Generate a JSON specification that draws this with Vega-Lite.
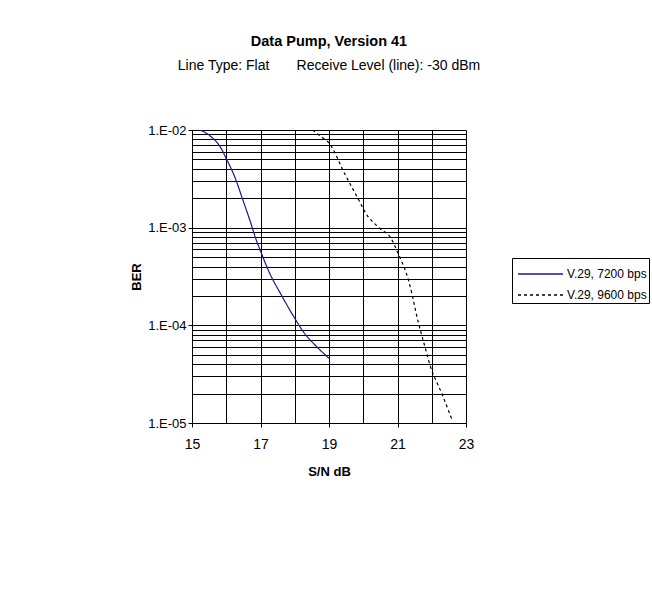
{
  "$schema": "https://vega.github.io/schema/vega-lite/v6.json",
  "autosize": "none",
  "width": 274,
  "height": 293,
  "padding": {"left": 192, "top": 130, "right": 186, "bottom": 171},
  "background": "white",
  "title": {
    "text": "Data Pump, Version 41",
    "subtitle": "Line Type: Flat\u00a0\u00a0\u00a0\u00a0\u00a0\u00a0\u00a0Receive Level (line): -30 dBm",
    "anchor": "middle",
    "offset": 50,
    "font": "Liberation Sans",
    "fontSize": 14.5,
    "fontWeight": "bold",
    "color": "black",
    "subtitleFont": "Liberation Sans",
    "subtitleFontSize": 14,
    "subtitleColor": "black",
    "subtitlePadding": 10
  },
  "data": {
    "values": [
      {"series": "V.29, 7200 bps", "snr": 15.24, "ber": 0.0100},
      {"series": "V.29, 7200 bps", "snr": 15.52, "ber": 0.00875},
      {"series": "V.29, 7200 bps", "snr": 15.86, "ber": 0.0064},
      {"series": "V.29, 7200 bps", "snr": 16.0, "ber": 0.0051},
      {"series": "V.29, 7200 bps", "snr": 16.25, "ber": 0.0033},
      {"series": "V.29, 7200 bps", "snr": 16.49, "ber": 0.0019},
      {"series": "V.29, 7200 bps", "snr": 16.69, "ber": 0.00119},
      {"series": "V.29, 7200 bps", "snr": 16.88, "ber": 0.00074},
      {"series": "V.29, 7200 bps", "snr": 17.01, "ber": 0.000565},
      {"series": "V.29, 7200 bps", "snr": 17.27, "ber": 0.00034},
      {"series": "V.29, 7200 bps", "snr": 17.61, "ber": 0.000204},
      {"series": "V.29, 7200 bps", "snr": 18.0, "ber": 0.000118},
      {"series": "V.29, 7200 bps", "snr": 18.25, "ber": 0.000086},
      {"series": "V.29, 7200 bps", "snr": 18.64, "ber": 0.0000605},
      {"series": "V.29, 7200 bps", "snr": 19.0, "ber": 0.000046},
      {"series": "V.29, 9600 bps", "snr": 18.52, "ber": 0.0100},
      {"series": "V.29, 9600 bps", "snr": 18.73, "ber": 0.00875},
      {"series": "V.29, 9600 bps", "snr": 19.02, "ber": 0.0072},
      {"series": "V.29, 9600 bps", "snr": 19.46, "ber": 0.00356},
      {"series": "V.29, 9600 bps", "snr": 19.9, "ber": 0.00183},
      {"series": "V.29, 9600 bps", "snr": 20.05, "ber": 0.00145},
      {"series": "V.29, 9600 bps", "snr": 20.49, "ber": 0.00098},
      {"series": "V.29, 9600 bps", "snr": 20.8, "ber": 0.00079},
      {"series": "V.29, 9600 bps", "snr": 21.02, "ber": 0.000543},
      {"series": "V.29, 9600 bps", "snr": 21.32, "ber": 0.00029},
      {"series": "V.29, 9600 bps", "snr": 21.43, "ber": 0.000204},
      {"series": "V.29, 9600 bps", "snr": 21.54, "ber": 0.000135},
      {"series": "V.29, 9600 bps", "snr": 21.82, "ber": 0.000057},
      {"series": "V.29, 9600 bps", "snr": 21.95, "ber": 0.000039},
      {"series": "V.29, 9600 bps", "snr": 22.29, "ber": 0.0000202},
      {"series": "V.29, 9600 bps", "snr": 22.61, "ber": 0.0000104}
    ]
  },
  "mark": {"type": "line", "interpolate": "monotone", "strokeWidth": 1.2, "clip": true},
  "encoding": {
    "x": {
      "field": "snr",
      "type": "quantitative",
      "scale": {"domain": [15, 23], "nice": false, "zero": false},
      "axis": {
        "title": "S/N dB",
        "values": [15, 16, 17, 18, 19, 20, 21, 22, 23],
        "labelExpr": "datum.value % 2 == 1 ? datum.label : ''",
        "tickOpacity": {"condition": {"test": "datum.value % 2 == 1", "value": 1}, "value": 0},
        "tickSize": 4,
        "labelPadding": 10,
        "labelFontSize": 14,
        "titlePadding": 14,
        "labelOverlap": false,
        "labelBound": false,
        "labelFlush": false
      }
    },
    "y": {
      "field": "ber",
      "type": "quantitative",
      "scale": {"type": "log", "domain": [0.00001, 0.01], "nice": false},
      "axis": {
        "title": "BER",
        "values": [0.00001, 0.00002, 0.00003, 0.00004, 0.00005, 0.00006, 0.00007, 0.00008, 0.00009,
                   0.0001, 0.0002, 0.0003, 0.0004, 0.0005, 0.0006, 0.0007, 0.0008, 0.0009,
                   0.001, 0.002, 0.003, 0.004, 0.005, 0.006, 0.007, 0.008, 0.009, 0.01],
        "labelExpr": "abs(log(datum.value)/LN10 - round(log(datum.value)/LN10)) < 0.001 ? '1.E-0' + format(-round(log(datum.value)/LN10), 'd') : ''",
        "tickOpacity": {"condition": {"test": "abs(log(datum.value)/LN10 - round(log(datum.value)/LN10)) < 0.001", "value": 1}, "value": 0},
        "tickSize": 4,
        "labelPadding": 2,
        "titlePadding": 4,
        "labelOverlap": false,
        "labelBound": false,
        "labelFlush": false
      }
    },
    "color": {
      "field": "series",
      "type": "nominal",
      "scale": {"domain": ["V.29, 7200 bps", "V.29, 9600 bps"], "range": ["#1a1a8c", "#000000"]},
      "legend": {
        "title": null,
        "orient": "none",
        "legendX": 320,
        "legendY": 128,
        "strokeColor": "black",
        "fillColor": "white",
        "padding": 2,
        "rowPadding": 1,
        "symbolType": "M-1.73,0H1.73",
        "symbolSize": 676,
        "symbolOffset": 12.5,
        "symbolStrokeWidth": 1.3,
        "labelOffset": 12.5,
        "labelFont": "Liberation Sans",
        "labelFontSize": 12,
        "labelColor": "black",
        "labelLimit": 200
      }
    },
    "strokeDash": {
      "field": "series",
      "type": "nominal",
      "scale": {"domain": ["V.29, 7200 bps", "V.29, 9600 bps"], "range": [[1, 0], [3, 3]]},
      "legend": {
        "title": null,
        "orient": "none",
        "legendX": 320,
        "legendY": 128
      }
    }
  },
  "config": {
    "view": {"stroke": null},
    "font": "Liberation Sans",
    "axis": {
      "grid": true,
      "gridColor": "black",
      "gridOpacity": 1,
      "gridWidth": 1,
      "domainColor": "black",
      "domainWidth": 1,
      "tickColor": "black",
      "tickWidth": 1,
      "labelFont": "Liberation Sans",
      "labelFontSize": 13,
      "labelColor": "black",
      "titleFont": "Liberation Sans",
      "titleFontSize": 13,
      "titleFontWeight": "bold",
      "titleColor": "black"
    }
  }
}
